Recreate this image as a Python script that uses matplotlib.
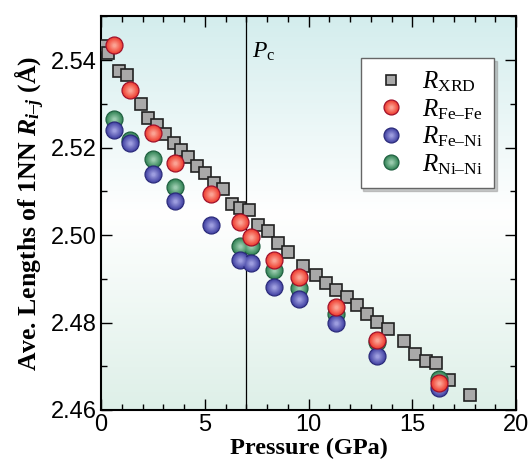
import numpy as np
import matplotlib
matplotlib.use("Agg")
import matplotlib.pyplot as plt
import matplotlib.colors as mcolors
from matplotlib.ticker import MultipleLocator, FormatStrFormatter
from matplotlib.legend_handler import HandlerTuple

plt.rcParams['mathtext.fontset'] = 'custom'
plt.rcParams['mathtext.rm'] = 'Liberation Serif'
plt.rcParams['mathtext.it'] = 'Liberation Serif:italic'
plt.rcParams['mathtext.bf'] = 'Liberation Serif:bold'
plt.rcParams['mathtext.bfit'] = 'Liberation Serif:bold:italic'

# XRD data (pressure in GPa, average 1NN length in Angstrom)
p_xrd = [0.03, 0.35, 0.87, 1.25, 1.93, 2.27, 2.70, 3.08, 3.50, 3.86,
         4.20, 4.63, 5.01, 5.45, 5.88, 6.30, 6.70, 7.13, 7.58, 8.05,
         8.53, 9.00, 9.74, 10.35, 10.85, 11.33, 11.84, 12.35, 12.83, 13.30,
         13.83, 14.60, 15.13, 15.66, 16.14, 16.77, 17.78]
r_xrd = [2.5432, 2.5416, 2.5375, 2.5366, 2.5299, 2.5267, 2.5251, 2.5230, 2.5210, 2.5194,
         2.5178, 2.5159, 2.5143, 2.5120, 2.5106, 2.5072, 2.5061, 2.5057, 2.5024, 2.5010,
         2.4982, 2.4962, 2.4930, 2.4909, 2.4891, 2.4875, 2.4859, 2.4840, 2.4820, 2.4801,
         2.4785, 2.4758, 2.4728, 2.4712, 2.4707, 2.4668, 2.4635]

# pair-resolved lengths
p_pair = [0.63, 1.40, 2.50, 3.57, 5.29, 6.72, 7.23, 8.35, 9.55, 11.33, 13.29, 16.30]
r_fefe = [2.5434, 2.5331, 2.5233, 2.5164, 2.5093, 2.5031, 2.4996, 2.4943, 2.4905, 2.4836, 2.4760, 2.4662]
r_feni = [2.5240, 2.5210, 2.5139, 2.5079, 2.5022, 2.4943, 2.4937, 2.4881, 2.4854, 2.4799, 2.4723, 2.4651]
r_nini = [2.5265, 2.5218, 2.5173, 2.5111, np.nan, 2.4975, 2.4975, 2.4920, 2.4879, 2.4820, 2.4756, 2.4672]

p_c = 7.0


def mix(c1, c2, t):
    a = np.array(mcolors.to_rgb(c1))
    b = np.array(mcolors.to_rgb(c2))
    return tuple(a + (b - a) * t)


def sphere(ax, x, y, base, dark, light, ms, z):
    # shaded ball: base disc plus lighter discs toward the centre
    hs = []
    h, = ax.plot(x, y, 'o', ms=ms, mfc=base, mec=dark, mew=0.9, ls='none', zorder=z)
    hs.append(h)
    for k, f in enumerate(np.linspace(0.8, 0.2, 6)):
        h, = ax.plot(x, y, 'o', ms=ms * f, mfc=mix(base, light, (k + 1) / 8),
                     mec='none', ls='none', zorder=z + 0.01 * (k + 1))
        hs.append(h)
    return tuple(hs)


fig = plt.figure(figsize=(5.29, 4.66), dpi=100)
ax = fig.add_axes([101 / 529, 56 / 466, 415 / 529, 393.6 / 466])

# background gradient
top = np.array([0.83, 0.93, 0.93])
mid = np.array([1.0, 1.0, 1.0])
bot = np.array([0.87, 0.94, 0.91])
t = np.linspace(0, 1, 200)[:, None]
grad = np.where(t < 0.5, top + (mid - top) * (t / 0.5), mid + (bot - mid) * ((t - 0.5) / 0.5))
ax.imshow(grad[:, None, :], extent=[0, 1, 0, 1], transform=ax.transAxes,
          aspect='auto', zorder=0)

ax.axvline(p_c, color='black', lw=0.9, zorder=1)
ax.text(p_c + 0.3, 2.5405, r'$P_{\mathrm{c}}$', fontsize=17, va='baseline')

h_xrd, = ax.plot(p_xrd, r_xrd, 's', ms=8, mfc='#a9a9a9', mec='#222222', mew=1.2,
                 ls='none', zorder=3)
h_nn = sphere(ax, p_pair, r_nini, '#3f8c60', '#1f6040', '#b8e0c8', 12.2, 4)
h_fn = sphere(ax, p_pair, r_feni, '#4c4caa', '#2a2a7a', '#b8b8f0', 12.2, 5)
h_ff = sphere(ax, p_pair, r_fefe, '#f0483a', '#a0102a', '#ffc0b0', 12.2, 6)

ax.set_xlim(0, 20)
ax.set_ylim(2.46, 2.55)
ax.xaxis.set_major_locator(MultipleLocator(5))
ax.xaxis.set_minor_locator(MultipleLocator(1))
ax.yaxis.set_major_locator(MultipleLocator(0.02))
ax.yaxis.set_minor_locator(MultipleLocator(0.01))
ax.yaxis.set_major_formatter(FormatStrFormatter('%.2f'))
ax.tick_params(which='both', direction='in', top=True, right=True, width=1.0)
ax.tick_params(which='major', length=8, labelsize=17, pad=3)
ax.tick_params(which='minor', length=4.5)
for lab in ax.get_xticklabels() + ax.get_yticklabels():
    lab.set_family('Liberation Sans')
for s in ax.spines.values():
    s.set_linewidth(1.5)

ax.set_xlabel('Pressure (GPa)', fontsize=17.5, fontweight='bold',
              family='Liberation Serif', labelpad=1)
ax.set_ylabel(r'Ave. Lengths of 1NN $\mathbfit{R}_{\mathbfit{i}\mathbf{–}\mathbfit{j}}$ (Å)',
              fontsize=18.5, fontweight='bold', family='Liberation Serif', labelpad=3)

labels = [r'$R_{\mathrm{XRD}}$', r'$R_{\mathrm{Fe–Fe}}$', r'$R_{\mathrm{Fe–Ni}}$', r'$R_{\mathrm{Ni–Ni}}$']
leg = ax.legend([h_xrd, h_ff, h_fn, h_nn], labels,
                handler_map={tuple: HandlerTuple(ndivide=1, pad=0)},
                loc='upper right', bbox_to_anchor=(0.947, 0.894), borderaxespad=0,
                fontsize=18, frameon=True, fancybox=False,
                shadow={'color': '0.55', 'alpha': 0.45},
                edgecolor='0.4', framealpha=1, handletextpad=0.5, markerscale=0.88,
                labelspacing=0.12, borderpad=0.45, handlelength=1.5)
leg.get_frame().set_linewidth(1.0)
leg.set_zorder(10)

fig.savefig('out.png', dpi=100)
